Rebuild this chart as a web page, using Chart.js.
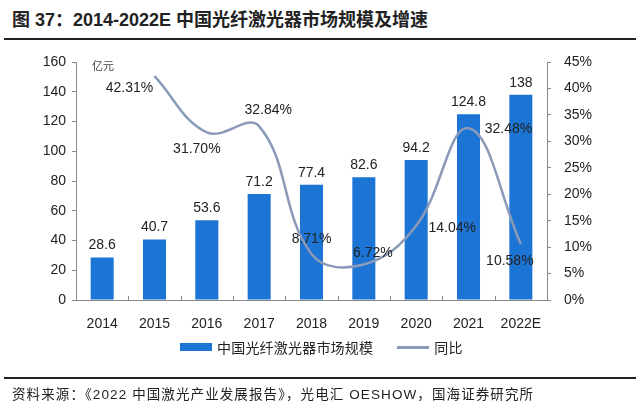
<!DOCTYPE html>
<html>
<head>
<meta charset="utf-8">
<script src="https://cdn.jsdelivr.net/npm/chart.js@4"></script>
<style>
  body { margin: 0; width: 640px; height: 409px; background: #fff; position: relative; overflow: hidden;
         font-family: "Liberation Sans", "Noto Sans CJK SC", sans-serif; color: #222; }
  #title { position: absolute; left: 12px; top: 5px; font-size: 18px; font-weight: bold; white-space: nowrap; }
  .rule { position: absolute; left: 4px; width: 632px; height: 2px; background: #222; }
  #source { position: absolute; left: 12px; top: 383px; font-size: 13.5px; letter-spacing: 1.1px; white-space: nowrap; }
  #unit { position: absolute; left: 92px; top: 57px; font-size: 11px; color: #444; }
  #legend { position: absolute; top: 337px; left: 180px; font-size: 14px; letter-spacing: 0.2px; white-space: nowrap; }
  #legend span { display: inline-block; vertical-align: middle; }
  .box { width: 32px; height: 8px; background: #1c74d4; margin-right: 5px; }
  .ln { width: 32px; height: 3px; background: #8a9ab8; margin-left: 24px; margin-right: 5px; }
  #wrap { position: absolute; left: 0; top: 0; width: 640px; height: 409px; }
</style>
</head>
<body>
<div id="title">图 37：2014-2022E 中国光纤激光器市场规模及增速</div>
<div class="rule" style="top:38px"></div>
<div id="wrap"><canvas id="chart"></canvas></div>
<div id="unit">亿元</div>
<div id="legend"><span class="box"></span><span>中国光纤激光器市场规模</span><span class="ln"></span><span>同比</span></div>
<div class="rule" style="top:377px"></div>
<div id="source">资料来源：《2022 中国激光产业发展报告》，光电汇 OESHOW，国海证券研究所</div>

<script>
// data
const years = ['2014', '2015', '2016', '2017', '2018', '2019', '2020', '2021', '2022E']
const marketSize = [28.6, 40.7, 53.6, 71.2, 77.4, 82.6, 94.2, 124.8, 138]
const growth = [null, 42.31, 31.70, 32.84, 8.71, 6.72, 14.04, 32.48, 10.58]

// label offsets for the growth labels (px, from the point)
const growthLabelShift = [[0, 0], [-25, 12], [-10, 17], [9, -16], [0, -15], [9, -11], [36, 2], [40, 1], [-11, 17]]

const labelFont = '14px "Liberation Sans", sans-serif'

// draws value labels + small x ticks
const labelsPlugin = {
  id: 'valueLabels',
  afterDatasetsDraw(chart) {
    const ctx = chart.ctx
    const x = chart.scales.x
    const yL = chart.scales.y
    const yR = chart.scales.y1
    ctx.save()
    ctx.font = labelFont
    ctx.fillStyle = '#222'
    ctx.textAlign = 'center'
    ctx.textBaseline = 'bottom'
    marketSize.forEach((v, i) => {
      ctx.fillText(String(v), x.getPixelForValue(i), yL.getPixelForValue(v) - 5)
    })
    ctx.textBaseline = 'middle'
    growth.forEach((v, i) => {
      if (v == null) return
      const s = growthLabelShift[i]
      ctx.fillText(v.toFixed(2) + '%', x.getPixelForValue(i) + s[0], yR.getPixelForValue(v) + s[1])
    })
    // tick marks between categories, pointing up
    ctx.strokeStyle = '#888'
    ctx.lineWidth = 1
    const bottom = chart.chartArea.bottom
    for (let i = 0; i <= years.length; i++) {
      let px
      if (i == 0) px = chart.chartArea.left
      else if (i == years.length) px = chart.chartArea.right
      else px = (x.getPixelForValue(i - 1) + x.getPixelForValue(i)) / 2
      ctx.beginPath()
      ctx.moveTo(Math.round(px) + 0.5, bottom)
      ctx.lineTo(Math.round(px) + 0.5, bottom - 4)
      ctx.stroke()
    }
    ctx.restore()
  }
}

const data = {
  labels: years,
  datasets: [
    {
      type: 'line',
      label: '同比',
      data: growth,
      yAxisID: 'y1',
      borderColor: '#8a9ab8',
      borderWidth: 2.5,
      pointRadius: 0,
      tension: 0.4,
      fill: false,
      order: 0
    },
    {
      type: 'bar',
      label: '中国光纤激光器市场规模',
      data: marketSize,
      yAxisID: 'y',
      backgroundColor: '#1c74d4',
      barPercentage: 0.44,
      categoryPercentage: 1,
      order: 1
    }
  ]
}

const tickFont = { family: '"Liberation Sans", sans-serif', size: 14 }

const config = {
  type: 'bar',
  data: data,
  plugins: [labelsPlugin],
  options: {
    responsive: false,
    animation: false,
    devicePixelRatio: 1,
    layout: { padding: { top: 62, left: 0, right: 0, bottom: 0 } },
    plugins: { legend: { display: false }, tooltip: { enabled: false } },
    scales: {
      x: {
        grid: { display: false },
        border: { color: '#888' },
        ticks: { color: '#222', font: tickFont, padding: 8 },
        afterFit: (s) => { s.height = 109 }
      },
      y: {
        position: 'left',
        min: 0, max: 160,
        ticks: { stepSize: 20, color: '#222', font: tickFont, padding: 6 },
        grid: { drawOnChartArea: false, tickLength: 4, color: '#888' },
        border: { color: '#888' },
        afterFit: (s) => { s.width = 76 }
      },
      y1: {
        position: 'right',
        min: 0, max: 45,
        ticks: { stepSize: 5, color: '#222', font: tickFont, padding: 13, callback: (v) => v + '%' },
        grid: { drawOnChartArea: false, tickLength: 4, color: '#888' },
        border: { color: '#888' },
        afterFit: (s) => { s.width = 93 }
      }
    }
  }
}

const el = document.querySelector('#chart')
el.width = 640
el.height = 409
const chart = new Chart(el, config)
</script>
</body>
</html>
